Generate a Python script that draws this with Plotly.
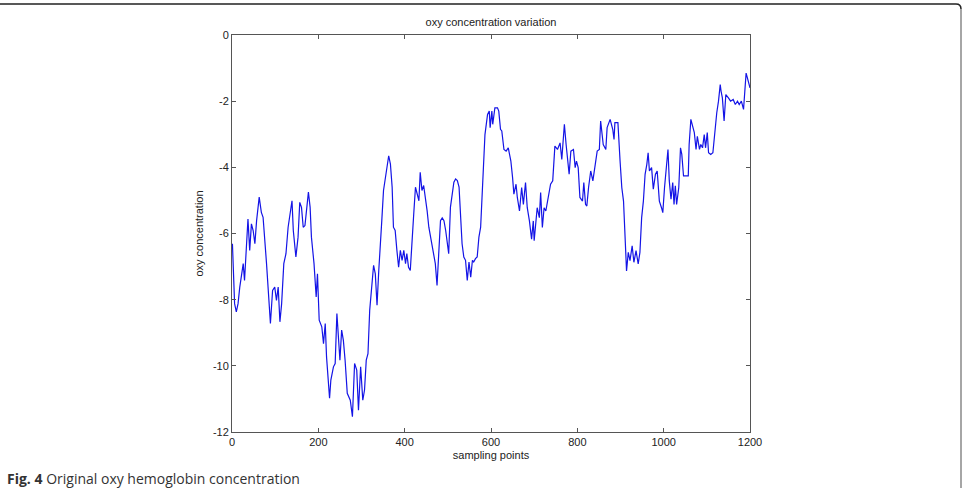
import plotly.graph_objects as go

# sampling point index and oxy concentration
samples = [1, 6, 10, 14, 18, 26, 29, 37, 41, 45, 49, 53, 57, 63, 68, 72, 80, 84, 89, 94,
           99, 103, 107, 111, 115, 120, 125, 130, 134, 139, 142, 148, 153, 157, 161, 165, 169, 173, 177, 181,
           184, 190, 195, 198, 202, 208, 212, 216, 219, 226, 229, 235, 239, 243, 247, 250, 254, 258, 262, 267,
           274, 279, 284, 289, 293, 298, 303, 307, 311, 315, 319, 324, 328, 332, 336, 340, 343, 347, 351, 357,
           363, 367, 371, 374, 378, 382, 386, 390, 394, 398, 402, 405, 409, 413, 417, 421, 425, 429, 433, 436,
           440, 444, 448, 452, 456, 460, 464, 467, 471, 475, 479, 483, 487, 491, 495, 498, 502, 506, 510, 514,
           518, 522, 526, 529, 533, 537, 541, 545, 549, 553, 557, 560, 564, 568, 572, 576, 582, 586, 592, 596,
           598, 602, 604, 609, 615, 618, 622, 625, 630, 635, 640, 646, 650, 653, 658, 661, 666, 671, 675, 680,
           684, 689, 694, 698, 700, 704, 707, 712, 715, 719, 723, 727, 733, 738, 743, 748, 754, 760, 764, 770,
           774, 777, 781, 785, 791, 795, 798, 802, 806, 812, 815, 819, 822, 826, 831, 836, 841, 846, 851, 854,
           860, 866, 869, 876, 882, 885, 887, 894, 899, 903, 907, 910, 912, 914, 918, 922, 927, 931, 936, 941,
           945, 949, 953, 957, 961, 964, 967, 972, 976, 981, 985, 990, 995, 998, 1002, 1005, 1010, 1013, 1017, 1021,
           1024, 1027, 1030, 1035, 1039, 1042, 1046, 1057, 1059, 1063, 1067, 1071, 1075, 1078, 1083, 1086, 1090, 1094, 1097, 1101,
           1104, 1109, 1114, 1119, 1123, 1127, 1131, 1133, 1136, 1140, 1144, 1150, 1155, 1161, 1166, 1171, 1175, 1180, 1185, 1188,
           1191, 1195, 1200]

oxy = [-6.31, -8.12, -8.37, -8.12, -7.62, -6.91, -7.42, -5.56, -6.51, -5.71, -5.91, -6.31, -5.61, -4.90, -5.36, -5.51, -6.91, -7.82, -8.72, -7.72,
       -7.62, -8.02, -7.62, -8.67, -8.12, -6.91, -6.61, -5.81, -5.51, -5.01, -5.91, -6.71, -6.11, -5.06, -5.21, -5.81, -5.76, -5.31, -4.75, -5.21,
       -6.11, -6.91, -7.92, -7.22, -8.62, -8.82, -9.33, -8.72, -9.73, -10.98, -10.43, -10.03, -9.93, -8.42, -9.13, -9.83, -8.92, -9.23, -9.83, -10.83,
       -11.04, -11.54, -9.93, -10.13, -11.34, -10.03, -11.04, -10.73, -9.83, -9.63, -8.32, -7.52, -6.96, -7.22, -8.17, -7.12, -6.31, -5.61, -4.70, -4.10,
       -3.65, -3.90, -4.60, -5.81, -5.91, -6.51, -7.02, -6.51, -6.81, -6.51, -6.91, -6.61, -7.02, -7.12, -6.11, -5.41, -4.60, -4.80, -5.01, -4.15,
       -4.70, -4.55, -4.90, -5.31, -5.81, -6.11, -6.41, -6.61, -6.91, -7.57, -6.71, -5.61, -5.53, -5.61, -5.91, -6.21, -6.61, -5.21, -4.80, -4.45,
       -4.35, -4.40, -4.60, -5.41, -6.31, -6.71, -6.81, -7.42, -6.86, -7.32, -6.81, -6.86, -6.76, -6.71, -6.11, -5.81, -4.01, -3.01, -2.40, -2.30,
       -2.80, -2.30, -2.70, -2.20, -2.20, -2.30, -2.85, -2.90, -3.46, -3.51, -3.41, -3.81, -4.31, -4.81, -4.51, -4.91, -5.32, -4.61, -5.12, -4.46,
       -5.22, -5.62, -6.17, -5.62, -6.22, -5.72, -5.22, -5.52, -4.76, -5.82, -5.22, -5.32, -4.91, -4.51, -4.41, -3.36, -3.46, -3.26, -3.76, -2.70,
       -3.31, -3.81, -4.21, -3.51, -3.46, -4.01, -3.81, -4.01, -4.91, -5.02, -4.46, -5.12, -5.17, -4.61, -4.11, -4.41, -3.91, -3.51, -3.46, -2.60,
       -3.31, -3.46, -2.80, -2.55, -2.85, -3.16, -2.65, -2.65, -3.81, -4.61, -5.02, -6.02, -6.62, -7.13, -6.57, -6.82, -6.37, -6.87, -6.52, -6.92,
       -6.57, -5.52, -5.02, -4.21, -3.91, -3.56, -4.11, -4.01, -4.66, -4.21, -4.11, -5.02, -5.22, -5.37, -4.61, -4.11, -3.46, -4.41, -4.96, -4.46,
       -5.12, -4.56, -5.12, -4.61, -3.41, -3.61, -4.26, -4.26, -3.31, -2.55, -2.80, -2.95, -3.46, -3.06, -3.46, -3.31, -3.41, -3.01, -3.41, -2.95,
       -3.56, -3.61, -3.56, -2.80, -2.35, -2.00, -1.50, -1.70, -1.90, -2.60, -1.80, -1.90, -2.00, -1.95, -2.10, -2.00, -2.10, -2.00, -2.25, -1.70,
       -1.15, -1.35, -1.60]

x_ticks = [0, 200, 400, 600, 800, 1000, 1200]
x_tick_text = ["0", "200", "400", "600", "800", "1000", "1200"]
y_ticks = [0, -2, -4, -6, -8, -10, -12]
y_tick_text = ["0", "-2", "-4", "-6", "-8", "-10", "-12"]

W, H = 972, 488
L, R, T, B = 232, 750, 35, 432

def px(xp):
    return (xp - L) / (R - L)

def py(yp):
    return (B - yp) / (B - T)

fig = go.Figure()
fig.add_trace(go.Scatter(x=samples, y=oxy, mode="lines",
                         line=dict(color="#1414e6", width=1.2), showlegend=False))

axis_font = dict(family="Liberation Sans, Arial, sans-serif", size=11, color="#222222")

fig.update_layout(
    width=W, height=H,
    margin=dict(l=L, r=W - R, t=T, b=H - B, pad=0),
    paper_bgcolor="white", plot_bgcolor="white",
    title=dict(text="oxy concentration variation", x=(L + R) / 2 / W, xanchor="center",
               y=1 - 22 / H, yanchor="middle", xref="container",
               yref="container", font=axis_font),
    xaxis=dict(range=[0, 1200], tickvals=x_ticks, ticktext=x_tick_text,
               showgrid=False, zeroline=False, showline=True, mirror="ticks",
               linecolor="#555555", linewidth=1, ticks="inside", ticklen=4,
               tickcolor="#555555", tickfont=axis_font,
               title=dict(text="sampling points", font=axis_font, standoff=4)),
    yaxis=dict(range=[-12, 0], tickvals=y_ticks, ticktext=y_tick_text,
               showgrid=False, zeroline=False, showline=True, mirror="ticks",
               linecolor="#555555", linewidth=1, ticks="inside", ticklen=4,
               tickcolor="#555555", tickfont=axis_font,
               title=dict(text="oxy concentration", font=axis_font, standoff=7)),
)

# page frame (top rule and right rule with rounded corner)
fig.add_shape(type="path", xref="paper", yref="paper",
              path=f"M {px(-2)},{py(4)} L {px(956)},{py(4)} Q {px(961)},{py(4)} {px(961)},{py(9)}",
              line=dict(color="#222222", width=1.5))
fig.add_shape(type="line", xref="paper", yref="paper",
              x0=px(961), x1=px(961), y0=py(9), y1=py(490),
              line=dict(color="#888888", width=1.5))

fig.add_annotation(xref="paper", yref="paper", x=px(5), y=py(478), xanchor="left", yanchor="middle",
                   showarrow=False,
                   text="<b>Fig. 4</b> Original oxy hemoglobin concentration",
                   font=dict(family="Open Sans, Noto Sans, sans-serif", size=14, color="#333333"))

fig.write_html("out.html")
